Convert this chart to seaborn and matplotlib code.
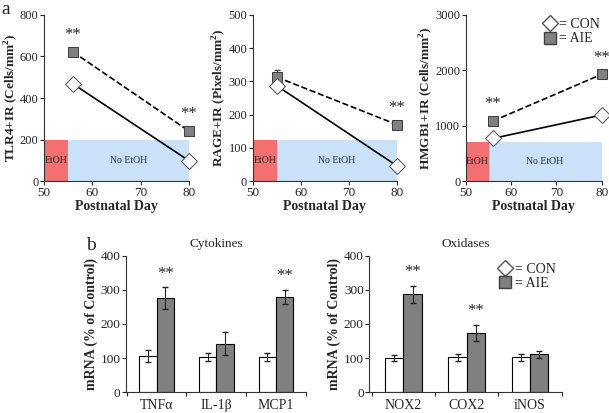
import numpy as np
import pandas as pd
import matplotlib
matplotlib.use("Agg")
import matplotlib.pyplot as plt
from matplotlib.lines import Line2D
import seaborn as sns

sns.set_style("ticks")
plt.rcParams['font.family'] = ['Liberation Serif', 'DejaVu Serif']
plt.rcParams['mathtext.fontset'] = 'custom'
plt.rcParams['mathtext.rm'] = 'Liberation Serif'
plt.rcParams['mathtext.bf'] = 'Liberation Serif:bold'

# ---- panel a data ----
groups = ['CON', 'AIE']
tlr4_days = [56, 80]
tlr4_con = [468, 98]
tlr4_aie = [622, 241]

rage_days = [55, 80]
rage_con = [287, 46]
rage_aie = [313, 170]
rage_con_err = [15, 0]
rage_aie_err = [20, 0]

hmgb1_days = [56, 80]
hmgb1_con = [770, 1193]
hmgb1_aie = [1085, 1928]

etoh_days = [50, 55]
noetoh_days = [55, 80]

# ---- panel b data ----
cyto_genes = ['TNFα', 'IL-1β', 'MCP1']
cyto_con = [106, 104, 104]
cyto_aie = [275, 142, 280]
cyto_con_err = [17, 11, 12]
cyto_aie_err = [32, 34, 21]

oxi_genes = ['NOX2', 'COX2', 'iNOS']
oxi_con = [101, 103, 102]
oxi_aie = [287, 173, 111]
oxi_con_err = [8, 10, 9]
oxi_aie_err = [25, 24, 10]

red = '#F46F6F'
blue = '#C9E1F9'
gray = '#808080'
fs_tick = 9.5
fs_lab = 10

fig = plt.figure(figsize=(6.09, 4.13), dpi=100)

top_axes = [
    fig.add_axes([0.0722, 0.5617, 0.238, 0.402]),
    fig.add_axes([0.415, 0.5617, 0.2365, 0.402]),
    fig.add_axes([0.765, 0.5617, 0.223, 0.402]),
]

top_panels = [
    (tlr4_days, tlr4_con, tlr4_aie, None, None, 800, 200, 200,
     'TLR4+IR (Cells/mm$^\\mathbf{2}$)', [True, True]),
    (rage_days, rage_con, rage_aie, rage_con_err, rage_aie_err, 500, 100, 125,
     'RAGE+IR (Pixels/mm$^\\mathbf{2}$)', [False, True]),
    (hmgb1_days, hmgb1_con, hmgb1_aie, None, None, 3000, 1000, 710,
     'HMGB1+IR (Cells/mm$^\\mathbf{2}$)', [True, True]),
]

for ax, (days, con, aie, cerr, aerr, ymax, ystep, shade, ylab, stars) in zip(top_axes, top_panels):
    # treatment shading
    ax.fill_between(etoh_days, 0, shade, color=red, lw=0, zorder=0)
    ax.fill_between(noetoh_days, 0, shade, color=blue, lw=0, zorder=0)
    ax.text(np.mean(etoh_days), shade / 2, 'EtOH', ha='center', va='center', fontsize=7)
    ax.text(np.mean(noetoh_days), shade / 2, 'No EtOH', ha='center', va='center', fontsize=7)

    df = pd.DataFrame({'day': days * 2, 'val': con + aie,
                       'group': ['CON'] * len(days) + ['AIE'] * len(days)})
    sns.lineplot(data=df[df.group == 'AIE'], x='day', y='val', ax=ax, color='black',
                 lw=1.2, linestyle='--', marker='s', markersize=7,
                 markerfacecolor=gray, markeredgecolor='#404040', zorder=3, clip_on=False)
    sns.lineplot(data=df[df.group == 'CON'], x='day', y='val', ax=ax, color='black',
                 lw=1.2, marker='D', markersize=8,
                 markerfacecolor='white', markeredgecolor='#555555', zorder=4, clip_on=False)
    if cerr is not None:
        ax.errorbar(days, con, yerr=[cerr, [0] * len(cerr)], fmt='none',
                    ecolor='#444444', capsize=2.5, lw=0.8, zorder=2)
        ax.errorbar(days, aie, yerr=[[0] * len(aerr), aerr], fmt='none',
                    ecolor='#444444', capsize=2.5, lw=0.8, zorder=2)
    for d, v, s in zip(days, aie, stars):
        if s:
            ax.text(d, v + ymax * 0.1, '**', ha='center', va='center', fontsize=12)

    ax.set_xlim(50, 80)
    ax.set_ylim(0, ymax)
    ax.set_xticks([50, 60, 70, 80])
    ax.set_yticks(np.arange(0, ymax + 1, ystep))
    ax.set_xlabel('Postnatal Day', fontsize=fs_lab, fontweight='bold', labelpad=1)
    ax.set_ylabel(ylab, fontsize=fs_lab - 0.5, fontweight='bold', labelpad=0)
    ax.tick_params(axis='x', labelsize=fs_tick, length=3, width=0.8, pad=1)
    ax.tick_params(axis='y', labelsize=fs_tick - 0.5, length=3, width=0.8, pad=1)
    sns.despine(ax=ax)
    for sp in ['left', 'bottom']:
        ax.spines[sp].set_linewidth(0.8)
        ax.spines[sp].set_color('#333333')

bot_axes = [
    fig.add_axes([0.2069, 0.0501, 0.2956, 0.3308]),
    fig.add_axes([0.6064, 0.0501, 0.316, 0.3308]),
]
bot_panels = [
    (cyto_genes, cyto_con, cyto_aie, cyto_con_err, cyto_aie_err, 'Cytokines', (-0.51, 2.33)),
    (oxi_genes, oxi_con, oxi_aie, oxi_con_err, oxi_aie_err, 'Oxidases', (-0.54, 2.5)),
]

for ax, (genes, con, aie, cerr, aerr, title, xl) in zip(bot_axes, bot_panels):
    df = pd.DataFrame({'gene': genes * 2, 'val': con + aie,
                       'group': ['CON'] * len(genes) + ['AIE'] * len(genes)})
    sns.barplot(data=df, x='gene', y='val', hue='group', hue_order=groups,
                palette={'CON': 'white', 'AIE': gray}, width=0.58, gap=0,
                edgecolor='black', linewidth=0.8, errorbar=None, legend=False, ax=ax)
    errs = cerr + aerr
    vals = con + aie
    for p, v, e in zip(ax.patches, vals, errs):
        xc = p.get_x() + p.get_width() / 2
        ax.errorbar(xc, v, yerr=e, fmt='none', ecolor='#222222', capsize=2.5, lw=0.8)
    ax.set_xlim(*xl)
    ax.set_ylim(0, 400)
    ax.set_yticks([0, 100, 200, 300, 400])
    ax.set_xticks(np.arange(len(genes) + 1) - 0.5, minor=True)
    ax.tick_params(axis='x', which='major', length=0, labelsize=fs_lab, pad=5)
    ax.tick_params(axis='x', which='minor', length=3, width=0.8)
    ax.tick_params(axis='y', labelsize=fs_tick, length=3, width=0.8, pad=1)
    ax.set_xlabel('')
    ax.set_ylabel('mRNA (% of Control)', fontsize=fs_lab, fontweight='bold', labelpad=2)
    ax.set_title(title, fontsize=fs_tick, pad=6)
    sns.despine(ax=ax)
    for sp in ['left', 'bottom']:
        ax.spines[sp].set_linewidth(0.8)
        ax.spines[sp].set_color('#333333')

# significance stars on panel b
for ax, aie, aerr, flags in [(bot_axes[0], cyto_aie, cyto_aie_err, [True, False, True]),
                             (bot_axes[1], oxi_aie, oxi_aie_err, [True, True, False])]:
    aie_bars = ax.patches[len(aie):]
    for p, v, e, f in zip(aie_bars, aie, aerr, flags):
        if f:
            ax.text(p.get_x() + p.get_width() / 2, v + e + 40, '**',
                    ha='center', va='center', fontsize=12)

# legends
handles = [
    Line2D([], [], ls='none', marker='D', markersize=8, markerfacecolor='white',
           markeredgecolor='#555555', label='= CON'),
    Line2D([], [], ls='none', marker='s', markersize=8, markerfacecolor=gray,
           markeredgecolor='#404040', label='= AIE'),
]
for ax, anchor in [(top_axes[2], (1.06, 1.04)), (bot_axes[1], (1.02, 1.02))]:
    ax.legend(handles=handles, loc='upper right', bbox_to_anchor=anchor, frameon=False,
              fontsize=fs_lab, handletextpad=0.15, labelspacing=0.1, borderpad=0.2,
              handlelength=1.1)

fig.text(0.003, 0.978, 'a', fontsize=14, va='center')
fig.text(0.142, 0.405, 'b', fontsize=14, va='center')

fig.savefig('out.png', dpi=100)
